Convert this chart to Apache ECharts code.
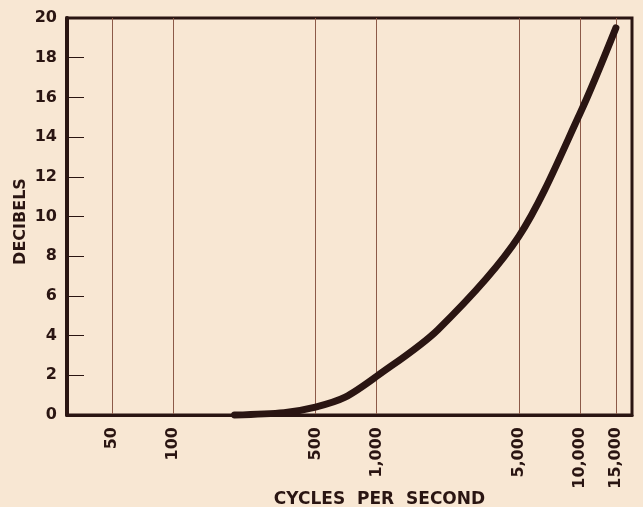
<!DOCTYPE html>
<html>
<head>
<meta charset="utf-8">
<script src="https://cdn.jsdelivr.net/npm/echarts@6/dist/echarts.min.js"></script>
<style>
  html, body { margin: 0; padding: 0; background: #f8e7d3; }
  #chart { width: 643px; height: 507px; }
</style>
</head>
<body>
<div id="chart"></div>
<script>
// Frequencies (cycles per second) and response (decibels)
const frequencies = [200, 350, 500, 700, 1000, 2000, 5000, 10000, 15000];
const decibels    = [0, 0.12, 0.4, 0.9, 1.95, 4.3, 9.0, 15.2, 19.5];
const xTickValues = [50, 100, 500, 1000, 5000, 10000, 15000];
const yTickValues = [0, 2, 4, 6, 8, 10, 12, 14, 16, 18, 20];

const ink = '#2a1512';
const gridInk = '#8c5a48';
const font = 'DejaVu Sans';

const chart = echarts.init(document.getElementById('chart'), null, { renderer: 'canvas' });
chart.setOption({
  backgroundColor: '#f8e7d3',
  animation: false,
  grid: {
    left: 67, right: 11, top: 18, bottom: 92,
    outerBoundsMode: 'none',
    containLabel: false,
    show: true, borderColor: ink, borderWidth: 3, backgroundColor: 'transparent'
  },
  xAxis: {
    type: 'log',
    logBase: 10,
    min: 30,
    max: 18000,
    name: 'CYCLES  PER  SECOND',
    nameLocation: 'middle',
    nameGap: 76,
    nameMoveOverlap: false,
    nameTextStyle: { fontFamily: font, fontWeight: 'bold', fontSize: 17, color: ink, padding: [0, 0, 0, 60] },
    axisLine: { show: true, lineStyle: { color: ink, width: 3 } },
    axisTick: { show: false, customValues: xTickValues },
    splitLine: { show: true, lineStyle: { color: gridInk, width: 1 } },
    minorTick: { show: false },
    minorSplitLine: { show: false },
    axisLabel: {
      customValues: xTickValues,
      rotate: 90,
      margin: 12,
      fontFamily: font, fontWeight: 'bold', fontSize: 16, color: ink,
      formatter: v => Number(v).toLocaleString('en-US')
    }
  },
  yAxis: {
    type: 'value',
    min: 0, max: 20, interval: 2,
    name: 'DECIBELS',
    nameLocation: 'middle',
    nameGap: 38,
    nameMoveOverlap: false,
    nameTextStyle: { fontFamily: font, fontWeight: 'bold', fontSize: 16, color: ink, padding: [0, 10, 0, 0] },
    axisLine: { show: true, lineStyle: { color: ink, width: 4 } },
    axisTick: { show: true, inside: true, length: 17, lineStyle: { color: ink, width: 1 } },
    splitLine: { show: false },
    axisLabel: {
      margin: 10,
      fontFamily: font, fontWeight: 'bold', fontSize: 16, color: ink,
      formatter: v => yTickValues.includes(v) ? String(v) : ''
    }
  },
  series: [{
    type: 'line',
    data: frequencies.map((f, i) => [f, decibels[i]]),
    smooth: 0.3,
    showSymbol: false,
    symbol: 'none',
    lineStyle: { color: ink, width: 7, cap: 'round' },
    clip: false
  }]
});
</script>
</body>
</html>
